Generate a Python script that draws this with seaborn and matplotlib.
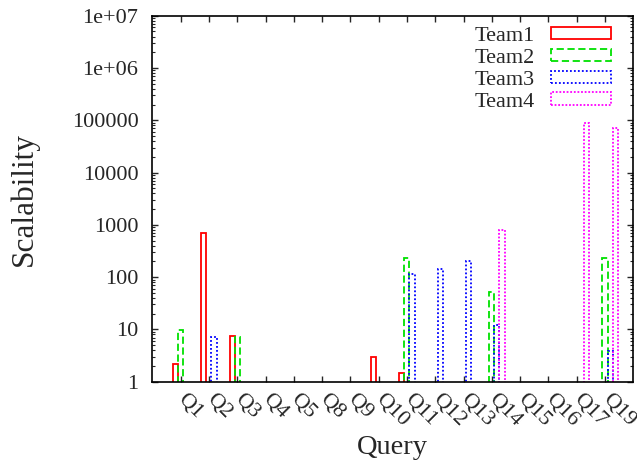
import numpy as np
import pandas as pd
import seaborn as sns
import matplotlib.pyplot as plt
from matplotlib.patches import Patch
from matplotlib.ticker import LogLocator, NullFormatter

nan = np.nan

# values (missing bars -> nan)
queries = ['Q1', 'Q2', 'Q3', 'Q4', 'Q5', 'Q8', 'Q9', 'Q10',
           'Q11', 'Q12', 'Q13', 'Q14', 'Q15', 'Q16', 'Q17', 'Q19']
teams = ['Team1', 'Team2', 'Team3', 'Team4']
team1 = [2.2, 700, 7.5, nan, nan, nan, nan, 3.0, 1.45, nan, nan, nan, nan, nan, nan, nan]
team2 = [9.8, nan, 7.1, nan, nan, nan, nan, nan, 233, nan, nan, 52, nan, nan, nan, 230]
team3 = [nan, 7.3, nan, nan, nan, nan, nan, nan, 117, 144, 207, 11.9, nan, nan, nan, 3.8]
team4 = [nan, nan, nan, nan, nan, nan, nan, nan, nan, nan, nan, 800, nan, nan, 90000, 70000]

ytick_vals = [1, 10, 100, 1000, 10000, 100000, 1e6, 1e7]
ytick_labels = ['1', '10', '100', '1000', '10000', '100000', '1e+06', '1e+07']

colors = ['#ff0000', '#00e000', '#0000ff', '#ff00ff']
styles = ['-', (0, (4, 2)), (0, (1, 1.2)), (0, (1, 1))]

df = pd.DataFrame({'Query': queries * 4,
                   'Team': [t for t in teams for _ in queries],
                   'Scalability': team1 + team2 + team3 + team4})

sns.set_style('ticks')
plt.rcParams['font.family'] = ['Liberation Serif', 'DejaVu Serif']

fig = plt.figure(figsize=(6.37, 4.62), dpi=100)
ax = fig.add_axes([0.2392, 0.1738, 0.7549, 0.7922])

sns.barplot(data=df, x='Query', y='Scalability', hue='Team', order=queries,
            hue_order=teams, palette=colors, fill=False, errorbar=None,
            width=0.72, linewidth=1.3, legend=False, ax=ax)

# gnuplot-like cluster: first bar left of tick, then shift everything a bit
for i, cont in enumerate(ax.containers):
    for p in cont.patches:
        p.set_x(p.get_x() + 0.09)
        p.set_edgecolor(colors[i])
        p.set_linestyle(styles[i])
        p.set_linewidth(1.3)

ax.set_yscale('log')
ax.set_ylim(1, 1e7)
ax.set_xlim(-1, 16)
ax.set_yticks(ytick_vals)
ax.set_yticklabels(ytick_labels)
ax.yaxis.set_minor_locator(LogLocator(base=10, subs=np.arange(2, 10), numticks=20))
ax.yaxis.set_minor_formatter(NullFormatter())

ax.set_xticks(range(len(queries)))
ax.set_xticklabels(queries, rotation=-45, ha='left', va='center',
                   rotation_mode='anchor')

ax.tick_params(axis='both', which='major', direction='in', length=4.5, width=1,
               top=True, right=True, labelsize=16)
ax.tick_params(axis='y', which='major', pad=10)
ax.tick_params(axis='x', which='major', pad=11)
ax.tick_params(axis='y', which='minor', direction='in', length=2.5, width=0.8,
               right=True)
for s in ax.spines.values():
    s.set_linewidth(1.2)
    s.set_color('black')

ax.set_xlabel('Query', fontsize=20.5, labelpad=3)
ax.set_ylabel('Scalability', fontsize=22.5, labelpad=24)

handles = [Patch(facecolor='none', edgecolor=c, linestyle=s, linewidth=1.3, label=t)
           for c, s, t in zip(colors, styles, teams)]
ax.legend(handles=handles, loc='upper right', frameon=False, fontsize=16,
          markerfirst=False, handlelength=2.7, handleheight=0.5,
          labelspacing=0.12, handletextpad=0.7, borderaxespad=0.1,
          bbox_to_anchor=(0.976, 1.0))

fig.savefig('out.png', dpi=100)
